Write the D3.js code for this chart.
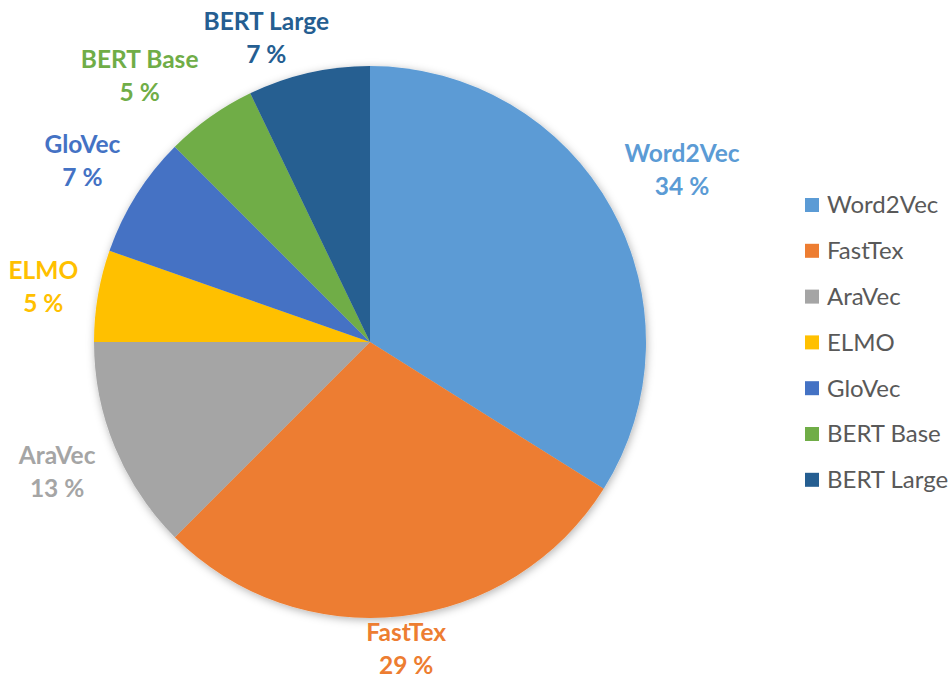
<!DOCTYPE html>
<meta charset="utf-8">
<script src="https://d3js.org/d3.v7.min.js"></script>
<style>
  body { margin: 0; background: #fff; }
  text { font-family: Lato, "Open Sans", sans-serif; }
</style>
<div id="chart"></div>
<script>
// data (counts of papers per embedding)
var names = ["Word2Vec", "FastTex", "AraVec", "ELMO", "GloVec", "BERT Base", "BERT Large"];
var counts = [19, 16, 7, 3, 4, 3, 4];
var colors = ["#5B9BD5", "#ED7D31", "#A5A5A5", "#FFC000", "#4472C4", "#70AD47", "#255E91"];

var width = 948, height = 678;
var cx = 370, cy = 342, radius = 276;

var svg = d3.select("#chart").append("svg")
  .attr("width", width)
  .attr("height", height);

var defs = svg.append("defs");
var f = defs.append("filter").attr("id", "shadow")
  .attr("x", "-20%").attr("y", "-20%").attr("width", "140%").attr("height", "140%");
f.append("feDropShadow")
  .attr("dx", 1).attr("dy", 2).attr("stdDeviation", 4)
  .attr("flood-color", "#000").attr("flood-opacity", 0.3);

var total = d3.sum(counts);
var data = names.map(function(n, i) { return {name: n, value: counts[i], color: colors[i]}; });

var pie = d3.pie().sort(null).value(function(d) { return d.value; });
var arc = d3.arc().innerRadius(0).outerRadius(radius);
var arcs = pie(data);

var g = svg.append("g").attr("transform", "translate(" + cx + "," + cy + ")");

g.append("g").attr("filter", "url(#shadow)")
  .selectAll("path")
  .data(arcs)
  .enter().append("path")
  .attr("d", arc)
  .attr("fill", function(d) { return d.data.color; });

// labels outside, placed so the text box just clears the pie
var lineH = 33, halfH = 30, pad = 3, gap = 13;
var inkH = 25, inkGap = 6;          // text ink box, used when a label hits the edge
var topBound = 13 - cy, bottomBound = 674 - cy;

var labels = g.selectAll("text.lbl")
  .data(arcs)
  .enter().append("text")
  .attr("class", "lbl")
  .attr("text-anchor", "middle")
  .attr("fill", function(d) { return d.data.color; })
  .style("font-weight", "bold")
  .style("font-size", "24.5px");

labels.append("tspan").attr("class", "l1").text(function(d) { return d.data.name; });
labels.append("tspan").attr("class", "l2")
  .text(function(d) { return Math.round(d.data.value / total * 100) + " %"; });

function placeAt(ang, a, b) {
  var s = Math.sin(ang), c = Math.cos(ang);
  var r = radius + gap + a * Math.abs(s) + b * Math.abs(c);
  return {x: r * s, y: -r * c, s: s};
}

var boxes = [];
labels.each(function(d) {
  var t = d3.select(this);
  var w = Math.max(t.select(".l1").node().getComputedTextLength(),
                   t.select(".l2").node().getComputedTextLength());
  var a = w / 2 + pad, b = halfH;
  var ang = (d.startAngle + d.endAngle) / 2;
  var p = placeAt(ang, a, b);
  var clamped = false;
  if (p.y - inkH < topBound) { p.y = topBound + inkH; clamped = true; }
  if (p.y + inkH > bottomBound) { p.y = bottomBound - inkH; clamped = true; }
  if (clamped) {
    var ia = w / 2, R = radius + inkGap;
    var ny = (p.y - inkH > 0) ? p.y - inkH : (p.y + inkH < 0 ? p.y + inkH : 0);
    var nx = (p.x - ia > 0) ? p.x - ia : (p.x + ia < 0 ? p.x + ia : 0);
    if (nx * nx + ny * ny < R * R && ny * ny < R * R) {
      var need = Math.sqrt(R * R - ny * ny);
      if (p.s >= 0) p.x = Math.max(p.x, need + ia);
      else p.x = Math.min(p.x, -need - ia);
    }
  }
  boxes.push({node: this, a: a, b: b, ang: ang, x: p.x, y: p.y, fixed: clamped});
});

// push free labels away from clamped ones along the circle
function overlaps(p, q) {
  return Math.abs(p.x - q.x) < p.a + q.a - 2 && Math.abs(p.y - q.y) < p.b + q.b - 10;
}
boxes.forEach(function(p) {
  if (p.fixed) return;
  boxes.forEach(function(q) {
    if (q === p || !q.fixed) return;
    var dir = p.ang < q.ang ? -1 : 1;
    var n = 0;
    while (overlaps(p, q) && n < 200) {
      p.ang += dir * Math.PI / 360;
      var np = placeAt(p.ang, p.a, p.b);
      p.x = np.x; p.y = np.y;
      n++;
    }
  });
});

boxes.forEach(function(p) {
  var t = d3.select(p.node);
  t.select(".l1").attr("x", p.x).attr("y", p.y - lineH / 2).attr("dy", "0.35em");
  t.select(".l2").attr("x", p.x).attr("y", p.y + lineH / 2).attr("dy", "0.35em");
});

// legend
var legend = svg.append("g").attr("transform", "translate(805,205)");
var rowH = 45.8;
var item = legend.selectAll("g")
  .data(data)
  .enter().append("g")
  .attr("transform", function(d, i) { return "translate(0," + (i * rowH) + ")"; });
item.append("rect")
  .attr("x", 0).attr("y", -7)
  .attr("width", 14).attr("height", 14)
  .attr("fill", function(d) { return d.color; });
item.append("text")
  .attr("x", 22).attr("y", 0).attr("dy", "0.35em")
  .attr("fill", "#595959")
  .style("font-size", "24px")
  .text(function(d) { return d.name; });
</script>
